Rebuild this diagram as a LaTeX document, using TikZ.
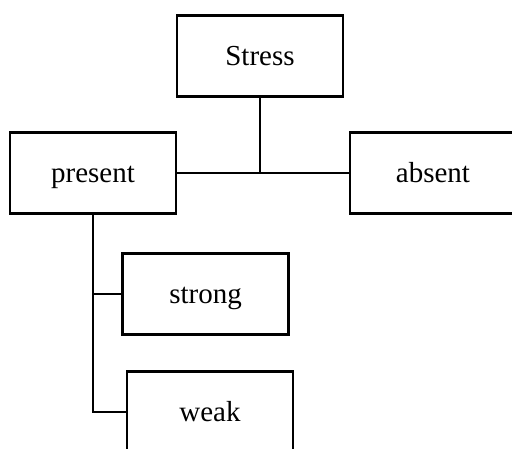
\documentclass[tikz,border=0pt]{standalone}
\usepackage{fontspec}
\setmainfont{Liberation Serif}
\begin{document}
\begin{tikzpicture}[x=1pt,y=-1pt,
  box/.style={draw=black,line width=2.4pt,minimum width=166pt,minimum height=81pt,inner sep=0pt,
    text height=20pt,text depth=2pt,font=\fontsize{29}{34}\selectfont},
  conn/.style={draw=black,line width=2pt}]
\useasboundingbox (0,0) rectangle (512,448);
\clip (0,0) rectangle (512,448);
\node[box] (stress) at (260,56) {Stress};
\node[box] (present) at (93,173) {present};
\node[box] (absent) at (433,173) {absent};
\node[box] (strong) at (205.5,294) {strong};
\node[box] (weak) at (210,412) {weak};
\draw[conn] (stress.south) -- (stress.south |- present.east);
\draw[conn] (present.east) -- (absent.west);
\draw[conn] (present.south) |- (weak.west);
\draw[conn] (present.south |- strong.west) -- (strong.west);
\end{tikzpicture}
\end{document}
